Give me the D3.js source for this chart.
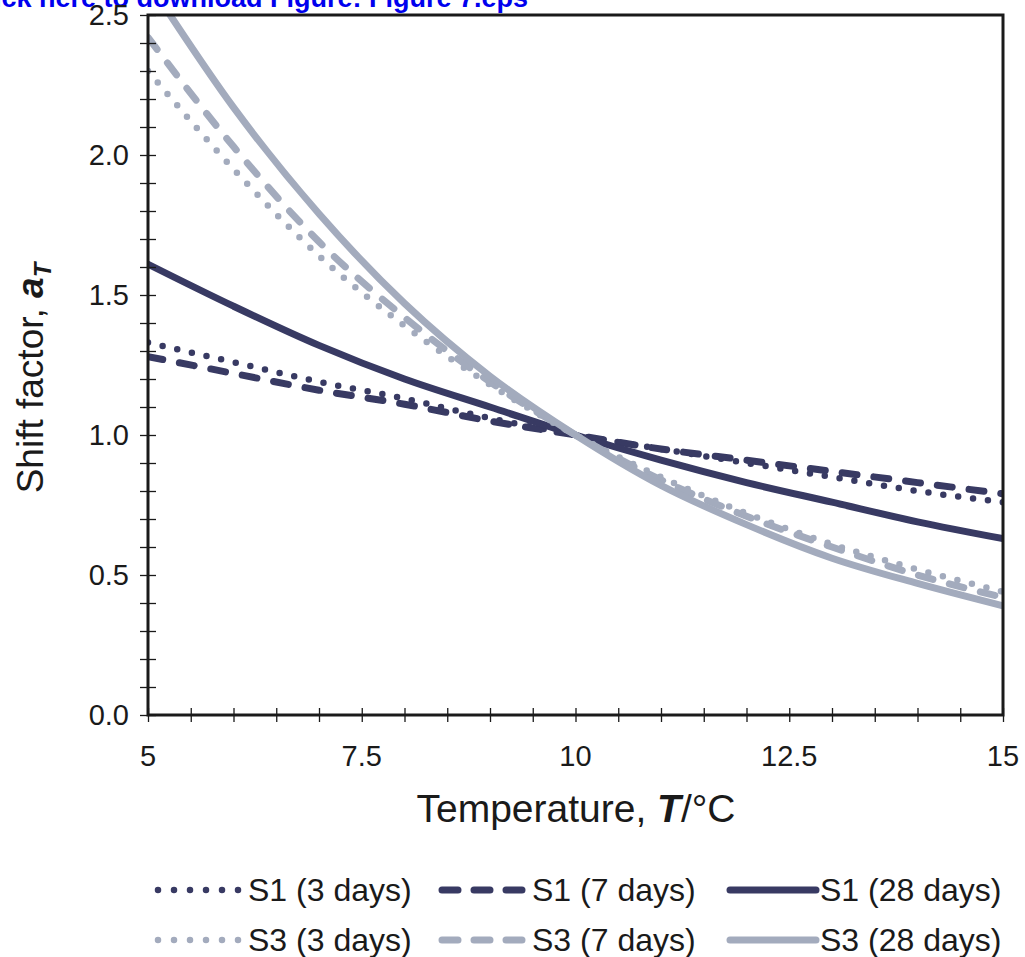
<!DOCTYPE html>
<html>
<head>
<meta charset="utf-8">
<script src="https://cdn.jsdelivr.net/npm/d3@7"></script>
<style>
  body { margin: 0; background: #fff; }
  svg { display: block; font-family: "Liberation Sans", Arial, sans-serif; }
</style>
</head>
<body>
<svg id="chart" width="1025" height="957"></svg>
<script>
var temps = [5, 6, 7, 8, 9, 10, 11, 12, 13, 14, 15];

// shift factor a_T
var s1Day3  = [1.33, 1.26, 1.19, 1.13, 1.06, 1.00, 0.95, 0.90, 0.85, 0.80, 0.76];
var s1Day7  = [1.28, 1.22, 1.16, 1.11, 1.05, 1.00, 0.95, 0.91, 0.87, 0.83, 0.79];
var s1Day28 = [1.61, 1.46, 1.32, 1.20, 1.10, 1.00, 0.91, 0.83, 0.76, 0.69, 0.63];
var s3Day3  = [2.30, 1.95, 1.64, 1.39, 1.18, 1.00, 0.85, 0.72, 0.61, 0.52, 0.44];
var s3Day7  = [2.42, 2.03, 1.69, 1.42, 1.19, 1.00, 0.84, 0.71, 0.60, 0.50, 0.42];
var s3Day28 = [2.62, 2.17, 1.79, 1.47, 1.21, 1.00, 0.82, 0.68, 0.56, 0.47, 0.39];

var xTicks = [5, 7.5, 10, 12.5, 15];
var yTicks = [0, 0.5, 1.0, 1.5, 2.0, 2.5];

var dark = "#383a63";
var light = "#a3abbd";

var series = [
    { name: "S1 (3 days)",  values: s1Day3,  color: dark,  style: "dot" },
    { name: "S1 (7 days)",  values: s1Day7,  color: dark,  style: "dash" },
    { name: "S1 (28 days)", values: s1Day28, color: dark,  style: "solid" },
    { name: "S3 (3 days)",  values: s3Day3,  color: light, style: "dot" },
    { name: "S3 (7 days)",  values: s3Day7,  color: light, style: "dash" },
    { name: "S3 (28 days)", values: s3Day28, color: light, style: "solid" }
];

var dashes = { dot: "0,15", dash: "15,17", solid: null };

var svg = d3.select("#chart");
var plotL = 148, plotR = 1003, plotT = 15, plotB = 715;

var x = d3.scaleLinear().domain([5, 15]).range([plotL, plotR]);
var y = d3.scaleLinear().domain([0, 2.5]).range([plotB, plotT]);

// blue link text, cut off at the top
svg.append("text")
    .attr("x", 528).attr("y", 7)
    .attr("text-anchor", "end")
    .attr("font-weight", "bold")
    .attr("font-size", 27)
    .attr("fill", "#0000ee")
    .text("Click here to download Figure: Figure 7.eps");

svg.append("clipPath").attr("id", "clip")
    .append("rect")
    .attr("x", plotL).attr("y", plotT)
    .attr("width", plotR - plotL).attr("height", plotB - plotT);

var line = d3.line()
    .x(function (d, i) { return x(temps[i]); })
    .y(function (d) { return y(d); })
    .curve(d3.curveMonotoneX);

var plot = svg.append("g").attr("clip-path", "url(#clip)");

plot.selectAll("path")
    .data(series)
    .enter().append("path")
    .attr("fill", "none")
    .attr("stroke", function (d) { return d.color; })
    .attr("stroke-width", function (d) { return d.style == "dot" ? 6.5 : 7; })
    .attr("stroke-linecap", "round")
    .attr("stroke-dasharray", function (d) { return dashes[d.style]; })
    .attr("d", function (d) { return line(d.values); });

// frame
svg.append("rect")
    .attr("x", plotL).attr("y", plotT)
    .attr("width", plotR - plotL).attr("height", plotB - plotT)
    .attr("fill", "none")
    .attr("stroke", "#1a1a1a")
    .attr("stroke-width", 3);

// minor + major ticks crossing the axes
var xAxis = d3.axisBottom(x)
    .tickValues(d3.range(5, 15.01, 0.5))
    .tickSize(7).tickSizeOuter(0)
    .tickFormat("");
var gx = svg.append("g").attr("transform", "translate(0," + plotB + ")").call(xAxis);
gx.selectAll(".tick line").attr("y1", -7).attr("stroke", "#1a1a1a").attr("stroke-width", 1.3);
gx.select(".domain").remove();

var yAxis = d3.axisLeft(y)
    .tickValues(d3.range(0, 2.501, 0.1))
    .tickSize(8).tickSizeOuter(0)
    .tickFormat("");
var gy = svg.append("g").attr("transform", "translate(" + plotL + ",0)").call(yAxis);
gy.selectAll(".tick line").attr("x1", 8).attr("stroke", "#1a1a1a").attr("stroke-width", 1.3);
gy.select(".domain").remove();

// tick labels
svg.append("g").selectAll("text")
    .data(xTicks)
    .enter().append("text")
    .attr("x", function (d) { return x(d); })
    .attr("y", 766)
    .attr("text-anchor", "middle")
    .attr("font-size", 29)
    .attr("fill", "#1a1a1a")
    .text(function (d) { return d; });

svg.append("g").selectAll("text")
    .data(yTicks)
    .enter().append("text")
    .attr("x", 129)
    .attr("y", function (d) { return y(d) + 10; })
    .attr("text-anchor", "end")
    .attr("font-size", 29)
    .attr("fill", "#1a1a1a")
    .text(function (d) { return d.toFixed(1); });

// axis titles
var xt = svg.append("text")
    .attr("x", 576).attr("y", 822)
    .attr("text-anchor", "middle")
    .attr("font-size", 39)
    .attr("fill", "#1a1a1a");
xt.append("tspan").text("Temperature, ");
xt.append("tspan").attr("font-weight", "bold").attr("font-style", "italic").text("T");
xt.append("tspan").text("/°C");

var yt = svg.append("text")
    .attr("transform", "translate(43,378) rotate(-90)")
    .attr("text-anchor", "middle")
    .attr("font-size", 37)
    .attr("fill", "#1a1a1a");
yt.append("tspan").text("Shift factor, ");
yt.append("tspan").attr("font-weight", "bold").attr("font-style", "italic").text("a");
yt.append("tspan").attr("font-weight", "bold").attr("font-style", "italic")
    .attr("font-size", 24).attr("dy", 8).text("T");

// legend
var legendCols = [155, 439, 727];
var legend = svg.append("g").selectAll("g")
    .data(series)
    .enter().append("g")
    .attr("transform", function (d, i) {
        return "translate(" + legendCols[i % 3] + "," + (i < 3 ? 890 : 940) + ")";
    });

legend.append("line")
    .attr("x1", 3)
    .attr("x2", 89)
    .attr("stroke", function (d) { return d.color; })
    .attr("stroke-width", function (d) { return d.style == "dot" ? 6.5 : 7; })
    .attr("stroke-linecap", "round")
    .attr("stroke-dasharray", function (d) { return d.style == "dot" ? "0,16" : (d.style == "dash" ? "16,16" : null); });

legend.append("text")
    .attr("x", 93).attr("y", 11)
    .attr("font-size", 32)
    .attr("fill", "#1a1a1a")
    .text(function (d) { return d.name; });
</script>
</body>
</html>
